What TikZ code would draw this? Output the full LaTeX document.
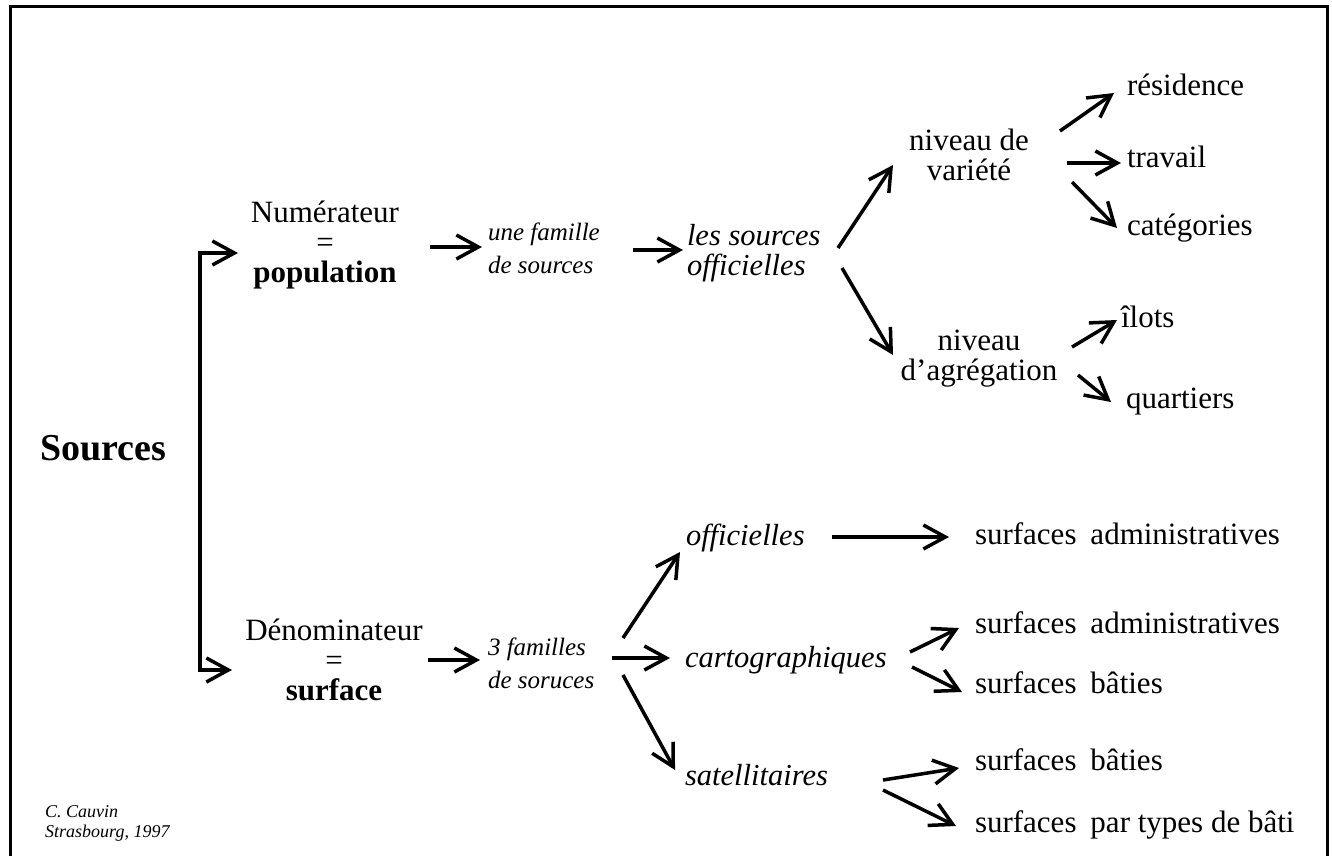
\documentclass[tikz,border=0pt]{standalone}
\usepackage{fontspec}
\setmainfont{Liberation Serif}
\usetikzlibrary{arrows.meta}
\newcommand\topstrut{\rule{0pt}{0.73em}}
\begin{document}
\begin{tikzpicture}[x=1pt,y=-1pt,
 lbl/.style={inner sep=0pt,outer sep=0pt,font=\fontsize{31}{30}\selectfont},
 ilbl/.style={inner sep=0pt,outer sep=0pt,font=\fontsize{30.5}{30}\selectfont\itshape},
 slbl/.style={inner sep=0pt,outer sep=0pt,font=\fontsize{25}{33}\selectfont\itshape},
 arr/.style={line width=3.5pt,-{Straight Barb[length=22pt,width=24pt,line width=3.5pt]}},
 framestyle/.style={line width=3pt}]
\useasboundingbox (0,0) rectangle (1332,855);
\draw[framestyle] (10,870) -- (10,6) -- (1327,6) -- (1327,870);

% nodes
\node[inner sep=0pt,font=\fontsize{38}{38}\selectfont\bfseries,anchor=base west] (src) at (40,460) {Sources};
\node[lbl,align=center,anchor=north] (num) at (325,200) {\topstrut Numérateur\\=\\\textbf{population}};
\node[lbl,align=center,anchor=north] (den) at (334,618) {\topstrut Dénominateur\\=\\\textbf{surface}};
\node[slbl,align=left,anchor=north west] (fam1) at (488,222) {\topstrut une famille\\de sources};
\node[ilbl,align=left,anchor=north west] (les) at (687,223) {\topstrut les sources\\officielles};
\node[lbl,align=center,anchor=north] (nv) at (969,128) {\topstrut niveau de\\variété};
\node[lbl,align=center,anchor=north] (na) at (979,328) {\topstrut niveau\\d'agrégation};
\node[lbl,anchor=base west] (res) at (1127,95) {résidence};
\node[lbl,anchor=base west] (trav) at (1127,167) {travail};
\node[lbl,anchor=base west] (cat) at (1127,235) {catégories};
\node[lbl,anchor=base west] (ilots) at (1121,327) {îlots};
\node[lbl,anchor=base west] (quart) at (1126,408) {quartiers};

\node[slbl,align=left,anchor=north west] (fam3) at (488,637) {\topstrut 3 familles\\de soruces};
\node[ilbl,anchor=base west] (off) at (686,545) {officielles};
\node[ilbl,anchor=base west] (carto) at (685,667) {cartographiques};
\node[ilbl,anchor=base west] (sat) at (685,785) {satellitaires};
\node[lbl,anchor=base west] (sa1) at (975,544) {surfaces\hspace{0.45em}administratives};
\node[lbl,anchor=base west] (sa2) at (975,633) {surfaces\hspace{0.45em}administratives};
\node[lbl,anchor=base west] (sb1) at (975,693) {surfaces\hspace{0.45em}bâties};
\node[lbl,anchor=base west] (sb2) at (975,770) {surfaces\hspace{0.45em}bâties};
\node[lbl,anchor=base west] (spt) at (975,832) {surfaces\hspace{0.45em}par types de bâti};

\node[inner sep=0pt,font=\fontsize{18}{20}\selectfont\itshape,align=left,anchor=north west] (auth) at (45,804) {\topstrut C. Cauvin\\Strasbourg, 1997};

% bracket
\coordinate (brk) at (200,460);
\draw[arr] (brk) |- ([shift={(-87,53)}]num.north);
\draw[arr] (brk) |- ([shift={(-102,52)}]den.north);

% upper branch
\draw[arr] ([shift={(105,47)}]num.north) -- ([shift={(-6,25)}]fam1.north west);
\draw[arr] ([shift={(145,28)}]fam1.north west) -- ([shift={(-4,27)}]les.north west);
\draw[arr] ([shift={(151,25)}]les.north west) -- ([shift={(-76,37)}]nv.north);
\draw[arr] ([shift={(155,45)}]les.north west) -- ([shift={(-86,27)}]na.north);
\draw[arr] ([shift={(91,3)}]nv.north) -- ([shift={(-13,-2)}]res.base west);
\draw[arr] ([shift={(98,35)}]nv.north) -- ([shift={(-6,-4)}]trav.base west);
\draw[arr] ([shift={(103,54)}]nv.north) -- ([shift={(-10,-7)}]cat.base west);
\draw[arr] ([shift={(93,19)}]na.north) -- ([shift={(-4,-7)}]ilots.base west);
\draw[arr] ([shift={(99,47)}]na.north) -- ([shift={(-15,-6)}]quart.base west);

% lower branch
\draw[arr] ([shift={(94,42)}]den.north) -- ([shift={(-8,23)}]fam3.north west);
\draw[arr] ([shift={(135,1)}]fam3.north west) -- ([shift={(-6,7)}]off.base west);
\draw[arr] ([shift={(124,21)}]fam3.north west) -- ([shift={(-15,-9)}]carto.base west);
\draw[arr] ([shift={(135,38)}]fam3.north west) -- ([shift={(-10,-15)}]sat.base west);
\draw[arr] ([shift={(146,-8)}]off.base west) -- ([shift={(-26,-7)}]sa1.base west);
\draw[arr] ([shift={(225,-15)}]carto.base west) -- ([shift={(-16,-5)}]sa2.base west);
\draw[arr] ([shift={(227,0)}]carto.base west) -- ([shift={(-13,-1)}]sb1.base west);
\draw[arr] ([shift={(198,-5)}]sat.base west) -- ([shift={(-16,-2)}]sb2.base west);
\draw[arr] ([shift={(198,5)}]sat.base west) -- ([shift={(-19,-6)}]spt.base west);
\end{tikzpicture}
\end{document}
